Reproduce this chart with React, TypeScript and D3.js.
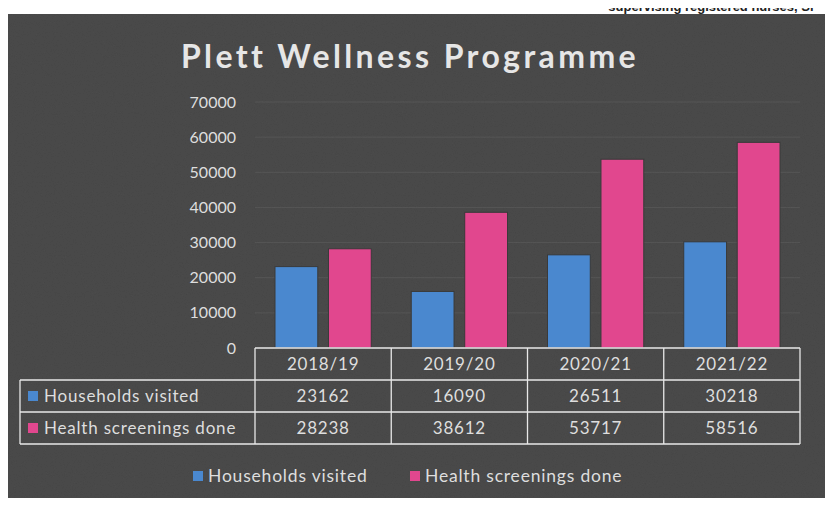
import React from "react";
import * as d3 from "d3";

const years = ["2018/19", "2019/20", "2020/21", "2021/22"];
const households = [23162, 16090, 26511, 30218];
const screenings = [28238, 38612, 53717, 58516];
const yTicks = [0, 10000, 20000, 30000, 40000, 50000, 60000, 70000];

const series = [
  { name: "Households visited", values: households, color: "#4a88cf" },
  { name: "Health screenings done", values: screenings, color: "#e1478e" },
];

const W = 833;
const H = 508;
const textCol = "#dedede";
const font = "Lato, 'Open Sans', sans-serif";

const App = () => {
  const plotLeft = 255;
  const plotRight = 800;
  const x0 = d3.scaleBand().domain(years).range([plotLeft, plotRight]).paddingInner(0).paddingOuter(0);
  const x1 = d3.scaleBand()
    .domain(series.map((s) => s.name))
    .range([20, x0.bandwidth() - 20])
    .paddingInner(0.2);
  const y = d3.scaleLinear().domain([0, 70000]).range([348, 102]);

  const headerTop = y(0);
  const rowH = 32;
  const tableLeft = 20;

  return (
    <div style={{ margin: -8, background: "#fff", width: W, height: H, overflow: "hidden" }}>
      <svg width={W} height={H} style={{ display: "block" }}>
        <defs>
          <filter id="grain" x="0" y="0" width="100%" height="100%">
            <feTurbulence type="fractalNoise" baseFrequency="0.9" numOctaves={2} seed={3} result="n" />
            <feColorMatrix type="saturate" values="0" in="n" result="g" />
            <feComponentTransfer in="g" result="a">
              <feFuncA type="linear" slope="0.25" />
            </feComponentTransfer>
            <feComposite in="a" in2="SourceGraphic" operator="in" result="c" />
            <feBlend in="SourceGraphic" in2="c" mode="multiply" />
          </filter>
        </defs>

        {/* page text above the photo */}
        <text x={815} y={11} textAnchor="end" fontFamily="'Liberation Sans', Arial, sans-serif"
          fontSize={13} fill="#222" fontWeight="bold">
          supervising registered nurses, Sr
        </text>

        <rect x={8} y={14} width={818} height={484} fill="#4b4b4b" filter="url(#grain)" />

        <text x={410} y={68} textAnchor="middle" fontFamily={font} fontSize={32}
          fontWeight="bold" letterSpacing={3.4} fill="#e6e6e6">
          Plett Wellness Programme
        </text>

        {/* y axis */}
        {yTicks.map((t) => (
          <g key={t}>
            {t > 0 && (
              <line x1={plotLeft} x2={plotRight} y1={y(t)} y2={y(t)} stroke="#ffffff" strokeOpacity={0.07} />
            )}
            <text x={236} y={y(t)} dy="0.35em" textAnchor="end" fontFamily={font} fontSize={16} fill={textCol}>
              {t}
            </text>
          </g>
        ))}

        {/* bars */}
        {years.map((yr, i) => (
          <g key={yr} transform={`translate(${x0(yr)},0)`}>
            {series.map((s) => (
              <rect key={s.name} x={x1(s.name)} y={y(s.values[i])} width={x1.bandwidth()}
                height={y(0) - y(s.values[i])} fill={s.color} stroke="#3a3a3a" strokeWidth={1} />
            ))}
          </g>
        ))}

        {/* data table */}
        <g stroke="#e8e8e8" strokeWidth={1.3} fill="none">
          <line x1={plotLeft} x2={plotRight} y1={headerTop} y2={headerTop} />
          <line x1={tableLeft} x2={plotRight} y1={headerTop + rowH} y2={headerTop + rowH} />
          <line x1={tableLeft} x2={plotRight} y1={headerTop + rowH * 2} y2={headerTop + rowH * 2} />
          <line x1={tableLeft} x2={plotRight} y1={headerTop + rowH * 3} y2={headerTop + rowH * 3} />
          <line x1={tableLeft} x2={tableLeft} y1={headerTop + rowH} y2={headerTop + rowH * 3} />
          {years.map((yr) => (
            <line key={yr} x1={x0(yr)} x2={x0(yr)} y1={headerTop} y2={headerTop + rowH * 3} />
          ))}
          <line x1={plotRight} x2={plotRight} y1={headerTop} y2={headerTop + rowH * 3} />
        </g>
        {years.map((yr) => (
          <text key={yr} x={(x0(yr) ?? 0) + x0.bandwidth() / 2} y={headerTop + rowH / 2} dy="0.35em"
            textAnchor="middle" fontFamily={font} fontSize={17} letterSpacing={0.8} fill={textCol}>
            {yr}
          </text>
        ))}
        {series.map((s, r) => (
          <g key={s.name}>
            <rect x={tableLeft + 8} y={headerTop + rowH * (r + 1.5) - 5} width={10} height={10} fill={s.color} />
            <text x={tableLeft + 24} y={headerTop + rowH * (r + 1.5)} dy="0.35em" fontFamily={font}
              fontSize={17} letterSpacing={0.8} fill={textCol}>
              {s.name}
            </text>
            {years.map((yr, i) => (
              <text key={yr} x={(x0(yr) ?? 0) + x0.bandwidth() / 2} y={headerTop + rowH * (r + 1.5)} dy="0.35em"
                textAnchor="middle" fontFamily={font} fontSize={17} letterSpacing={0.8} fill={textCol}>
                {s.values[i]}
              </text>
            ))}
          </g>
        ))}

        {/* legend */}
        {series.map((s, i) => {
          const lx = i === 0 ? 193 : 410;
          return (
            <g key={s.name} transform={`translate(${lx},476)`}>
              <rect x={0} y={-5} width={10} height={10} fill={s.color} />
              <text x={15} y={0} dy="0.35em" fontFamily={font} fontSize={17.5} letterSpacing={0.8} fill={textCol}>
                {s.name}
              </text>
            </g>
          );
        })}
      </svg>
    </div>
  );
};

export default App;
